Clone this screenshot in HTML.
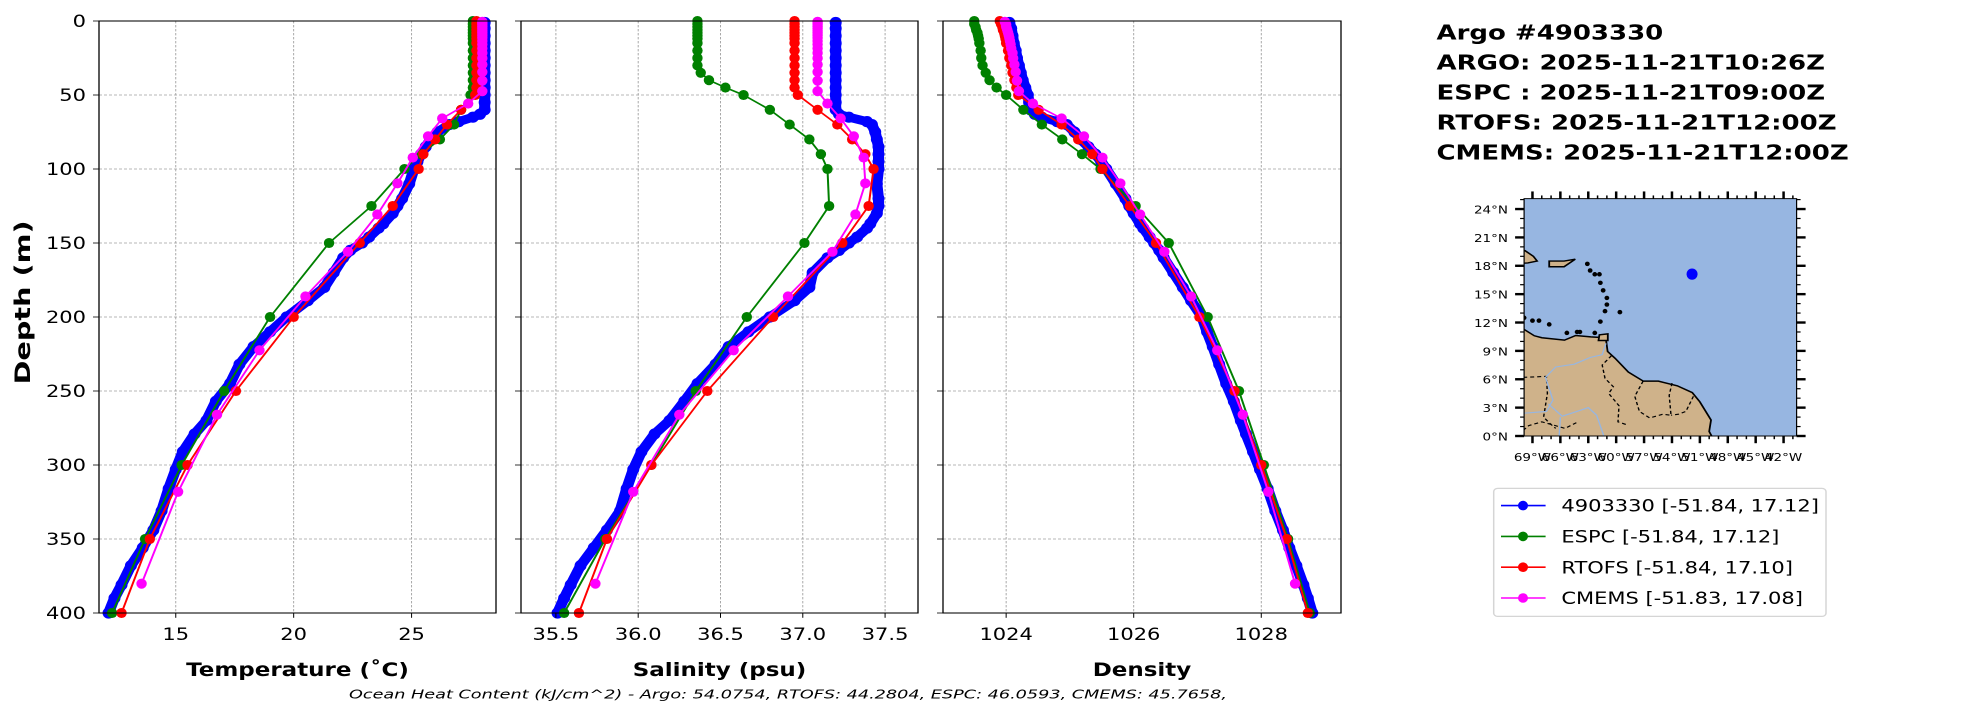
<!DOCTYPE html>
<html><head><meta charset="utf-8"><style>
html,body{margin:0;padding:0;background:#fff;}
svg{display:block;}
text{font-family:"DejaVu Sans","Liberation Sans",sans-serif;}
</style></head><body>
<svg id="fig" width="1967" height="712" viewBox="0 0 1967 890" preserveAspectRatio="none" xmlns="http://www.w3.org/2000/svg"></svg>
<script>
// ---------- DATA ----------
const argoDepth=[1,5,10,15,20,25,30,35,40,45,50,55,60,63,65,68,70,75,80,85,90,95,100,110,120,125,130,137,140,146,150,155,160,170,180,189,200,210,220,232,245,257,270,279,291,303,316,331,344,356,368,381,390,400];
const argoTemp=[28.1,28.1,28.1,28.1,28.1,28.1,28.1,28.1,28.1,28.1,28.1,28.1,28.1,27.9,27.6,27.0,26.6,26.1,25.8,25.6,25.4,25.25,25.1,24.9,24.6,24.4,24.2,23.8,23.6,23.2,22.9,22.4,22.1,21.7,21.3,20.6,19.7,19.0,18.3,17.7,17.3,16.7,16.3,15.8,15.3,15.0,14.7,14.4,14.05,13.6,13.1,12.7,12.4,12.15];
const argoSal=[37.2,37.2,37.2,37.2,37.2,37.2,37.2,37.2,37.2,37.2,37.2,37.2,37.2,37.22,37.28,37.39,37.42,37.44,37.45,37.46,37.46,37.46,37.46,37.45,37.46,37.46,37.45,37.41,37.39,37.33,37.28,37.22,37.15,37.06,37.04,36.95,36.8,36.67,36.55,36.47,36.36,36.28,36.19,36.1,36.02,35.97,35.93,35.89,35.81,35.73,35.65,35.59,35.55,35.51];
const argoDens=[1024.05,1024.08,1024.1,1024.12,1024.15,1024.17,1024.2,1024.23,1024.26,1024.3,1024.34,1024.36,1024.38,1024.45,1024.56,1024.8,1024.95,1025.07,1025.17,1025.29,1025.4,1025.49,1025.57,1025.72,1025.87,1025.93,1026.0,1026.1,1026.15,1026.25,1026.32,1026.4,1026.47,1026.62,1026.77,1026.9,1027.07,1027.15,1027.24,1027.34,1027.45,1027.57,1027.68,1027.76,1027.87,1027.98,1028.1,1028.22,1028.34,1028.44,1028.55,1028.66,1028.73,1028.8];

const modelDepth=[0,2,4,6,8,10,12,15,20,25,30,35,40,45,50,60,70,80,90,100,125,150,200,250,300,350,400];
const espcTemp=[27.6,27.6,27.6,27.6,27.6,27.6,27.6,27.6,27.6,27.6,27.6,27.6,27.6,27.6,27.5,27.1,26.8,26.2,25.4,24.7,23.3,21.5,19.0,17.05,15.25,13.7,12.3];
const espcSal=[36.36,36.36,36.36,36.36,36.36,36.36,36.36,36.36,36.36,36.36,36.36,36.38,36.43,36.53,36.64,36.8,36.92,37.04,37.11,37.15,37.16,37.01,36.66,36.35,36.08,35.8,35.55];
const espcDens=[1023.5,1023.5,1023.52,1023.53,1023.55,1023.56,1023.57,1023.58,1023.6,1023.61,1023.63,1023.68,1023.74,1023.85,1024.0,1024.27,1024.56,1024.88,1025.19,1025.48,1026.03,1026.55,1027.16,1027.65,1028.04,1028.42,1028.76];
const rtofsTemp=[27.75,27.75,27.75,27.75,27.75,27.75,27.75,27.75,27.75,27.75,27.75,27.75,27.75,27.75,27.7,27.1,26.5,26.0,25.5,25.3,24.2,22.8,20.0,17.55,15.5,13.9,12.7];
const rtofsSal=[36.95,36.95,36.95,36.95,36.95,36.95,36.95,36.95,36.95,36.95,36.95,36.95,36.95,36.95,36.97,37.09,37.21,37.3,37.38,37.43,37.4,37.24,36.82,36.42,36.08,35.81,35.64];
const rtofsDens=[1023.9,1023.92,1023.94,1023.95,1023.97,1023.98,1023.99,1024.0,1024.03,1024.05,1024.08,1024.1,1024.13,1024.16,1024.19,1024.51,1024.87,1025.13,1025.35,1025.51,1025.94,1026.35,1027.03,1027.58,1028.0,1028.4,1028.73];

const cmemsDepth=[0.5,1.5,2.6,3.8,5,6.4,7.9,9.6,11.4,13.5,15.8,18.5,21.6,25.2,29.4,34.4,40.3,47.4,55.8,65.8,77.9,92.3,109.7,130.7,155.9,186.1,222.5,266.0,318.1,380.2];
const cmemsTemp=[28.0,28.0,28.0,28.0,28.0,28.0,28.0,28.0,28.0,28.0,28.0,28.0,28.0,28.0,28.0,28.0,28.0,28.0,27.4,26.3,25.7,25.05,24.4,23.55,22.3,20.5,18.55,16.75,15.1,13.55];
const cmemsSal=[37.09,37.09,37.09,37.09,37.09,37.09,37.09,37.09,37.09,37.09,37.09,37.09,37.09,37.09,37.09,37.09,37.09,37.09,37.15,37.23,37.31,37.37,37.38,37.32,37.18,36.91,36.58,36.25,35.97,35.74];
const cmemsDens=[1023.98,1023.99,1024.0,1024.0,1024.01,1024.02,1024.03,1024.04,1024.05,1024.06,1024.07,1024.08,1024.1,1024.11,1024.13,1024.15,1024.17,1024.2,1024.42,1024.87,1025.22,1025.51,1025.79,1026.1,1026.48,1026.9,1027.31,1027.71,1028.11,1028.53];

const depthTicks=[0,50,100,150,200,250,300,350,400];
const tempTicks=[15,20,25];
const salTicks=[35.5,36.0,36.5,37.0,37.5];
const densTicks=[1024,1026,1028];
const titleLines=["Argo #4903330","ARGO: 2025-11-21T10:26Z","ESPC : 2025-11-21T09:00Z","RTOFS: 2025-11-21T12:00Z","CMEMS: 2025-11-21T12:00Z"];
const legendLabels=["4903330 [-51.84, 17.12]","ESPC [-51.84, 17.12]","RTOFS [-51.84, 17.10]","CMEMS [-51.83, 17.08]"];
const legendColors=["#0000ff","#008000","#ff0000","#ff00ff"];
const floatLon=[-51.84], floatLat=[17.12];
const latTicks=[0,3,6,9,12,15,18,21,24];
const lonTicks=[-69,-66,-63,-60,-57,-54,-51,-48,-45,-42];

// ---------- HELPERS ----------
const NS="http://www.w3.org/2000/svg";
const svg=document.getElementById('fig');
function el(tag,attrs,parent){const e=document.createElementNS(NS,tag);for(const k in attrs)e.setAttribute(k,attrs[k]);(parent||svg).appendChild(e);return e;}
const TOP=26.25,BOT=766.25;
const yD=d=>TOP+(d/400)*(BOT-TOP);

const panels=[
 {name:'temperature',x0:99,x1:496,min:11.745,max:28.58,ticks:tempTicks,fmt:v=>String(v),label:'Temperature (˚C)',
  series:[[argoDepth,argoTemp],[modelDepth,espcTemp],[modelDepth,rtofsTemp],[cmemsDepth,cmemsTemp]]},
 {name:'salinity',x0:521,x1:918,min:35.288,max:37.70,ticks:salTicks,fmt:v=>v.toFixed(1),label:'Salinity (psu)',
  series:[[argoDepth,argoSal],[modelDepth,espcSal],[modelDepth,rtofsSal],[cmemsDepth,cmemsSal]]},
 {name:'density',x0:943,x1:1341,min:1023.01,max:1029.25,ticks:densTicks,fmt:v=>String(v),label:'Density',
  series:[[argoDepth,argoDens],[modelDepth,espcDens],[modelDepth,rtofsDens],[cmemsDepth,cmemsDens]]}
];
const seriesNames=['argo','espc','rtofs','cmems'];

panels.forEach((p,pi)=>{
  const g=el('g',{});
  
  
  const xS=v=>p.x0+(v-p.min)/(p.max-p.min)*(p.x1-p.x0);
  p.ticks.forEach(t=>{el('line',{x1:xS(t),x2:xS(t),y1:TOP,y2:BOT,stroke:'#a0a0a0','stroke-width':0.9,'stroke-dasharray':'3,2'},g);});
  depthTicks.forEach(d=>{el('line',{x1:p.x0,x2:p.x1,y1:yD(d),y2:yD(d),stroke:'#a0a0a0','stroke-width':0.9,'stroke-dasharray':'3,2'},g);});
  p.series.forEach((s,si)=>{
    const [dep,val]=s;const col=legendColors[si];
    const sg=el('g',{},g);
    
    
    const pts=dep.map((d,i)=>xS(val[i]).toFixed(2)+','+yD(d).toFixed(2)).join(' ');
    el('polyline',{points:pts,fill:'none',stroke:col,'stroke-width':si===0?11:2,'stroke-linejoin':'round','stroke-linecap':'round'},sg);
    dep.forEach((d,i)=>{
      const c=el('ellipse',{cx:xS(val[i]),cy:yD(d),rx:si===0?6:5.2,ry:si===0?7:6.3,fill:col},sg);
      
      
    });
  });
  el('rect',{x:p.x0,y:TOP,width:p.x1-p.x0,height:BOT-TOP,fill:'none',stroke:'#000','stroke-width':1.3},g);
  p.ticks.forEach(t=>{
    el('line',{x1:xS(t),x2:xS(t),y1:BOT,y2:BOT+6,stroke:'#000','stroke-width':1},g);
    const tx=el('text',{x:xS(t),y:800,'font-size':21,'text-anchor':'middle'},g);
    tx.textContent=p.fmt(t);
    
    
  });
  depthTicks.forEach(d=>{
    el('line',{x1:p.x0-6,x2:p.x0,y1:yD(d),y2:yD(d),stroke:'#000','stroke-width':1},g);
    if(pi===0){
      const tx=el('text',{x:86,y:yD(d)+7.5,'font-size':21,'text-anchor':'end'},g);
      tx.textContent=String(d);
      
      
    }
  });
  const xl=el('text',{x:(p.x0+p.x1)/2,y:845,'font-size':23,'font-weight':'bold','text-anchor':'middle'},g);
  xl.textContent=p.label;
  
  
});
const yl=el('text',{x:0,y:0,'font-size':21,'font-weight':'bold','text-anchor':'middle',textLength:205,lengthAdjust:'spacingAndGlyphs',transform:'translate(30,378) rotate(-90)'});
yl.textContent='Depth (m)';



const ft=el('text',{x:788,y:873,'font-size':16,'font-style':'italic','text-anchor':'middle',textLength:878,lengthAdjust:'spacingAndGlyphs'});
ft.textContent='Ocean Heat Content (kJ/cm^2) - Argo: 54.0754,  RTOFS: 44.2804,  ESPC: 46.0593,  CMEMS: 45.7658,';



const tg=el('g',{});


titleLines.forEach((t,i)=>{
  const tx=el('text',{x:1436.5,y:49.5+i*37.5,'font-size':26,'font-weight':'bold'},tg);
  tx.textContent=t;
});

// map
const MX0=1524.1,MX1=1796.6,MY0=248.3,MY1=545,LON0=-69.9,LON1=-40.6,LAT0=0,LAT1=25.1;
const mx=lon=>MX0+(lon-LON0)/(LON1-LON0)*(MX1-MX0);
const my=lat=>MY1-(lat-LAT0)/(LAT1-LAT0)*(MY1-MY0);
const mg=el('g',{});


const cp=el('clipPath',{id:'mclip'},el('defs',{},mg));
el('rect',{x:MX0,y:MY0,width:MX1-MX0,height:MY1-MY0},cp);
el('rect',{x:MX0,y:MY0,width:MX1-MX0,height:MY1-MY0,fill:'#97b6e1'},mg);
const lg=el('g',{'clip-path':'url(#mclip)'},mg);
const coast=[[-71,11.3],[-69.89,11.26],[-68.8,10.6],[-67.99,10.39],[-65.56,10.14],[-64.35,10.63],[-62.73,10.48],[-61.12,10.39],[-60.92,8.94],[-60.11,8.21],[-58.69,6.76],[-57.08,5.8],[-55.46,5.8],[-53.44,5.31],[-51.82,4.59],[-51.01,3.62],[-49.8,1.69],[-50.0,0.48],[-49.19,-1],[-71,-1]];
const land=el('polygon',{points:coast.map(c=>mx(c[0])+','+my(c[1])).join(' '),fill:'#cfb28a',stroke:'#000','stroke-width':1.8},lg);


const isl=[[[-71,19.5],[-69.8,19.6],[-68.9,19.0],[-68.5,18.5],[-69.5,18.3],[-71,18.2]],[[-67.2,18.5],[-65.6,18.5],[-64.4,18.7],[-65.6,17.9],[-67.2,17.9]],[[-61.8,10.7],[-60.9,10.8],[-60.9,10.1],[-61.9,10.1]]];
isl.forEach(c=>el('polygon',{points:c.map(q=>mx(q[0])+','+my(q[1])).join(' '),fill:'#cfb28a',stroke:'#000','stroke-width':1.8},lg));
const dots=[[-63.1,18.2],[-62.8,17.5],[-62.3,17.1],[-61.8,17.1],[-61.7,16.2],[-61.4,15.4],[-61.0,14.6],[-61.0,13.9],[-61.2,13.2],[-61.7,12.1],[-59.6,13.1],[-69.9,12.5],[-69.0,12.2],[-68.3,12.2],[-67.2,11.8],[-64.2,11.0],[-63.9,11.0],[-65.3,10.9],[-62.3,10.9]];
dots.forEach(d=>el('ellipse',{cx:mx(d[0]),cy:my(d[1]),rx:2.4,ry:2.8,fill:'#000'},lg));
const borders=["M-70,6.2 L-67.5,6.3 L-67.4,4.5 L-67.8,2 L-67.1,1.3 L-66.5,0.8","M-60.5,8.5 L-61.5,7.5 L-61.2,6.1 L-60.3,5.2 L-60.8,4.5 L-59.7,3.2 L-59.8,1.5 L-58.9,1.2","M-57.1,5.8 L-58,4.2 L-57.5,2.6 L-56.4,1.9 L-55,2.3 L-54.1,2.2","M-54,5.6 L-54.3,4.3 L-54.1,2.2","M-51.7,4.2 L-52.5,2.6 L-53.3,2.3 L-54.1,2.2","M-70,0.6 L-69.4,1.1 L-68,1.5 L-66.9,1.2 L-65.5,0.8 L-64.1,1.5"];
borders.forEach(b=>{const dd=b.replace(/(-?[\d.]+),(-?[\d.]+)/g,(m,a,c)=>mx(+a).toFixed(1)+','+my(+c).toFixed(1));el('path',{d:dd,fill:'none',stroke:'#000','stroke-width':1.4,'stroke-dasharray':'4,3'},lg);});
const rivers=["M-70,2.4 L-67.5,2.6 L-66.8,3.8 L-67.6,6.2 L-66.5,7.3 L-64.5,7.6 L-62.8,8.3 L-61.5,8.6 L-61.1,9.8","M-67.3,3.4 L-65.8,2.1 L-64.5,2.5 L-63,3 L-62.1,2.2 L-61.5,0.5 L-61,-1","M-66,2 L-66.2,-1"];
rivers.forEach(b=>{const dd=b.replace(/(-?[\d.]+),(-?[\d.]+)/g,(m,a,c)=>mx(+a).toFixed(1)+','+my(+c).toFixed(1));el('path',{d:dd,fill:'none',stroke:'#97b6e1','stroke-width':1.4},lg);});
floatLon.forEach((lo,i)=>{
  const c=el('ellipse',{cx:mx(lo),cy:my(floatLat[i]),rx:5.5,ry:7,fill:'#0000ff'},mg);
  
  
});
el('rect',{x:MX0,y:MY0,width:MX1-MX0,height:MY1-MY0,fill:'none',stroke:'#000','stroke-width':1.2},mg);
for(let lat=0;lat<=25;lat++){
  const L=lat%3===0?9:4;
  el('line',{x1:MX0-L,x2:MX0,y1:my(lat),y2:my(lat),stroke:'#000','stroke-width':lat%3===0?3:1.5},mg);
  el('line',{x1:MX1,x2:MX1+L,y1:my(lat),y2:my(lat),stroke:'#000','stroke-width':lat%3===0?3:1.5},mg);
}
for(let lon=-69;lon<=-41;lon++){
  const L=lon%3===0?9:4;
  el('line',{x1:mx(lon),x2:mx(lon),y1:MY1,y2:MY1+L,stroke:'#000','stroke-width':lon%3===0?2.5:1.5},mg);
  el('line',{x1:mx(lon),x2:mx(lon),y1:MY0-L,y2:MY0,stroke:'#000','stroke-width':lon%3===0?2.5:1.5},mg);
}
latTicks.forEach(l=>{const t=el('text',{x:1508,y:my(l)+5.5,'font-size':13.5,'text-anchor':'end'},mg);t.textContent=l+'°N';});
lonTicks.forEach(l=>{const t=el('text',{x:mx(l),y:576,'font-size':13.5,'text-anchor':'middle'},mg);t.textContent=(-l)+'°W';});

// legend
const lgd=el('g',{});


el('rect',{x:1493.7,y:610.5,width:332.3,height:160,rx:4,fill:'#fff',stroke:'#d5d5d5','stroke-width':1.5},lgd);
legendLabels.forEach((lab,i)=>{
  const eg=el('g',{},lgd);
  
  
  const y=632+i*38.5;
  el('line',{x1:1501,x2:1545.6,y1:y,y2:y,stroke:legendColors[i],'stroke-width':2},eg);
  el('ellipse',{cx:1523,cy:y,rx:5,ry:6,fill:legendColors[i]},eg);
  const t=el('text',{x:1561.4,y:y+7.6,'font-size':21},eg);
  t.textContent=lab;
});
</script>
</body></html>
